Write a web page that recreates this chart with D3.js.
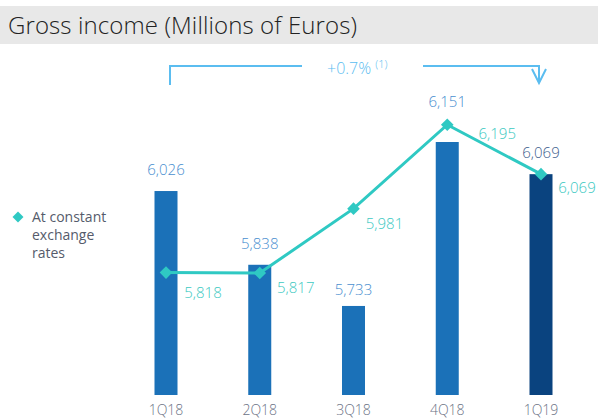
<!DOCTYPE html>
<html>
<head>
<meta charset="utf-8">
<script src="https://cdn.jsdelivr.net/npm/d3@7"></script>
<style>
  body { margin: 0; background: #fff; }
  text { font-family: "Open Sans", sans-serif; }
</style>
</head>
<body>
<div id="sandbox"></div>
<script>
// Data
const quarters = ["1Q18", "2Q18", "3Q18", "4Q18", "1Q19"];
const grossIncome = [6026, 5838, 5733, 6151, 6069];
const constantRates = [5818, 5817, 5981, 6195, 6069];
const changeLabel = "+0.7%";
const changeNote = "(1)";

const width = 598;
const height = 420;

const svg = d3.select("#sandbox")
    .append("svg")
    .attr("width", width)
    .attr("height", height);

// Title band
svg.append("rect")
    .attr("x", 0).attr("y", 6)
    .attr("width", width).attr("height", 38)
    .attr("fill", "#e8e8e8");

svg.append("text")
    .attr("x", 8).attr("y", 34)
    .attr("font-size", 24)
    .attr("font-weight", 300)
    .attr("fill", "#222")
    .attr("textLength", 349)
    .text("Gross income (Millions of Euros)");

// Scales
const x = d3.scalePoint()
    .domain(quarters)
    .range([166, 541]);

const y = d3.scaleLinear()
    .domain([5506, 6151])
    .range([395, 142]);

const barW = 23;
const last = quarters.length - 1;
const barColor = (d, i) => i === last ? "#0a437f" : "#1b71b8";

// Bars
svg.selectAll("rect.bar")
    .data(grossIncome)
    .enter()
    .append("rect")
    .attr("class", "bar")
    .attr("x", (d, i) => x(quarters[i]) - barW / 2)
    .attr("y", d => y(d))
    .attr("width", barW)
    .attr("height", d => y.range()[0] - y(d))
    .attr("fill", barColor);

// Bar value labels (4Q18 raised above the line marker)
const barLabelGap = [16, 16, 11, 35, 16];
svg.selectAll("text.barval")
    .data(grossIncome)
    .enter()
    .append("text")
    .attr("class", "barval")
    .attr("x", (d, i) => x(quarters[i]))
    .attr("y", (d, i) => y(d) - barLabelGap[i])
    .attr("text-anchor", "middle")
    .attr("font-size", 15)
    .attr("font-weight", 300)
    .attr("fill", (d, i) => i === last ? "#3f5f8f" : "#4a8fd0")
    .text(d => d3.format(",")(d));

// Category axis labels
svg.selectAll("text.cat")
    .data(quarters)
    .enter()
    .append("text")
    .attr("class", "cat")
    .attr("x", d => x(d))
    .attr("y", 415)
    .attr("text-anchor", "middle")
    .attr("font-size", 14)
    .attr("font-weight", 300)
    .attr("fill", "#6b7285")
    .text(d => d);

// Constant exchange rate line
const lineColor = "#2fc9c3";
const line = d3.line()
    .x((d, i) => x(quarters[i]))
    .y(d => y(d));

svg.append("path")
    .datum(constantRates)
    .attr("d", line)
    .attr("fill", "none")
    .attr("stroke", lineColor)
    .attr("stroke-width", 3);

const diamond = d3.symbol().type(d3.symbolSquare).size(80);

svg.selectAll("path.marker")
    .data(constantRates)
    .enter()
    .append("path")
    .attr("class", "marker")
    .attr("d", diamond)
    .attr("transform", (d, i) => `translate(${x(quarters[i])},${y(d)}) rotate(45)`)
    .attr("fill", lineColor);

// Line value labels (offsets per point)
const lineLabelOffsets = [[37, 25], [36, 20], [31, 20], [50, 14], [36, 19]];
svg.selectAll("text.lineval")
    .data(constantRates)
    .enter()
    .append("text")
    .attr("class", "lineval")
    .attr("x", (d, i) => x(quarters[i]) + lineLabelOffsets[i][0])
    .attr("y", (d, i) => y(d) + lineLabelOffsets[i][1])
    .attr("text-anchor", "middle")
    .attr("font-size", 15)
    .attr("font-weight", 300)
    .attr("fill", "#3cc9c2")
    .text(d => d3.format(",")(d));

// Legend
svg.append("path")
    .attr("d", d3.symbol().type(d3.symbolSquare).size(60))
    .attr("transform", "translate(18,217) rotate(45)")
    .attr("fill", lineColor);

svg.append("text")
    .attr("x", 32).attr("y", 222)
    .attr("font-size", 14)
    .attr("fill", "#555b6b")
    .selectAll("tspan")
    .data(["At constant", "exchange", "rates"])
    .enter()
    .append("tspan")
    .attr("x", 32)
    .attr("dy", (d, i) => i === 0 ? 0 : 18)
    .text(d => d);

// Change bracket
const bracketColor = "#5bbdf0";
const bx0 = x(quarters[0]) + 4;
const bx1 = x(quarters[last]) - 2;
const by = 66;
const g = svg.append("g")
    .attr("stroke", bracketColor)
    .attr("stroke-width", 2)
    .attr("fill", "none");

g.append("path").attr("d", `M${bx0},${by + 19}V${by}H${302}`);
g.append("path").attr("d", `M${423},${by}H${bx1}V${by + 17}`);
g.append("path").attr("d", `M${bx1 - 7},${by + 3}L${bx1},${by + 17}L${bx1 + 7},${by + 3}`);

const ct = svg.append("text")
    .attr("x", 327).attr("y", 74)
    .attr("font-size", 16)
    .attr("font-weight", 300)
    .attr("fill", bracketColor);
ct.append("tspan").text(changeLabel + " ");
ct.append("tspan")
    .attr("font-size", 11)
    .attr("dy", -6)
    .text(changeNote);
</script>
</body>
</html>
